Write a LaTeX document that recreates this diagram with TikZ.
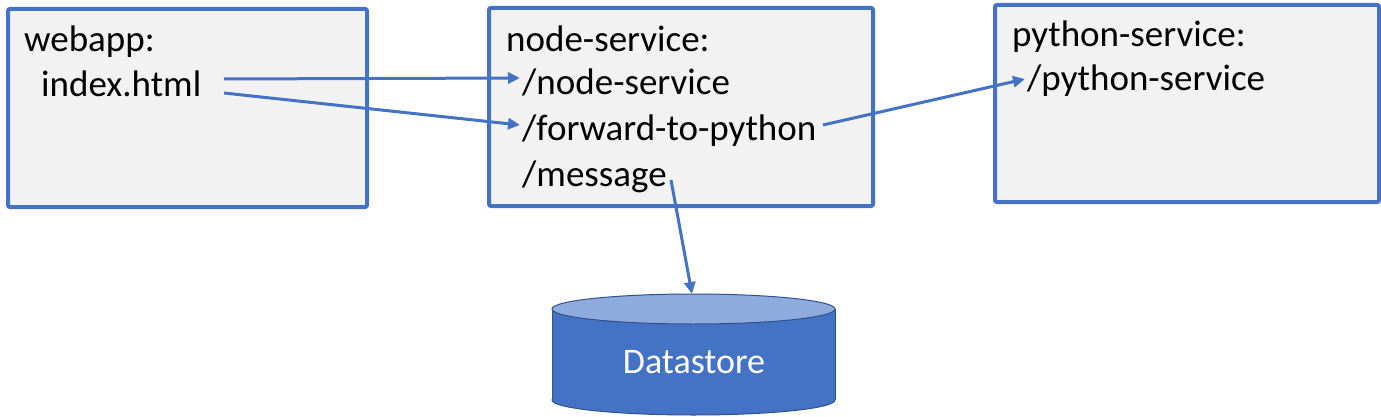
\documentclass[tikz,border=0pt]{standalone}
\usepackage{fontspec}
\setmainfont{Carlito}
\usetikzlibrary{arrows.meta}
\definecolor{accent}{HTML}{4472C4}
\definecolor{boxfill}{HTML}{F2F2F2}
\definecolor{dbtop}{HTML}{8FAADC}
\definecolor{dbline}{HTML}{2F528F}
\tikzset{
  svcbox/.style={draw=accent, line width=4pt, fill=boxfill, rounded corners=2pt},
  txt/.style={anchor=base west, inner sep=0pt, font=\fontsize{37}{44}\selectfont},
  conn/.style={draw=accent, line width=3pt, -{Triangle[length=12pt,width=11pt]}},
}
\begin{document}
\begin{tikzpicture}[x=1pt,y=-1pt]
\useasboundingbox (0,0) rectangle (1381,417);
% boxes
\path[svcbox] (8,9) rectangle (367,207);
\path[svcbox] (489,8) rectangle (873,206);
\path[svcbox] (995,5) rectangle (1379,202);
% texts
\node[txt] (web) at (24,52) {webapp:};
\node[txt] (idx) at (41,97) {index.html};
\node[txt] (ns) at (506,52) {node-service:};
\node[txt] (nsr) at (522,95) {/node-service};
\node[txt] (fwd) at (522,141) {/forward-to-python};
\node[txt] (msg) at (522,186) {/message};
\node[txt] (ps) at (1012,47) {python-service:};
\node[txt] (psr) at (1027,91) {/python-service};
% datastore cylinder
\path[fill=accent, draw=dbline, line width=1pt] (693.5,400) ellipse [x radius=141.5, y radius=15];
\path[fill=accent] (552,309) rectangle (835,400);
\draw[dbline, line width=1pt] (552,309) -- (552,400) (835,309) -- (835,400);
\path[fill=dbtop, draw=dbline, line width=1pt] (693.5,309) ellipse [x radius=141.5, y radius=15];
\node[font=\fontsize{36}{43}\selectfont, text=white, inner sep=0pt] (db) at (694,362) {Datastore};
\coordinate (dbtopc) at (692,294);
% connector endpoints
\coordinate (a1s) at (224,79);
\coordinate (a1e) at (520,78);
\coordinate (a2s) at (224,93);
\coordinate (a2e) at (520,125);
\coordinate (a3s) at (823,125);
\coordinate (a3e) at (1025,79);
\coordinate (a4s) at (671,180);
% connectors
\draw[conn] (a1s) -- (a1e);
\draw[conn] (a2s) -- (a2e);
\draw[conn] (a3s) -- (a3e);
\draw[conn] (a4s) -- (dbtopc);
\end{tikzpicture}
\end{document}
